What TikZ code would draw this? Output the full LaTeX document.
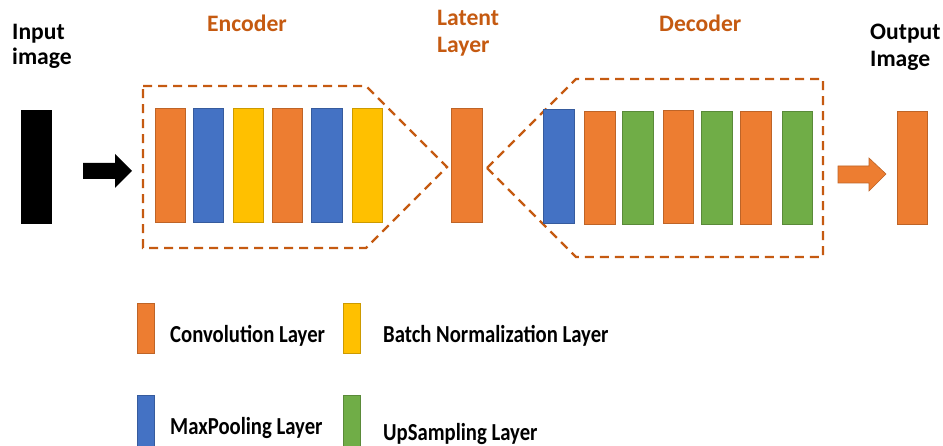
\documentclass[tikz,border=0pt]{standalone}
\usepackage{fontspec}
\setmainfont{Carlito}
\definecolor{conv}{HTML}{ED7D31}
\definecolor{pool}{HTML}{4472C4}
\definecolor{bn}{HTML}{FFC000}
\definecolor{ups}{HTML}{70AD47}
\definecolor{dark}{HTML}{C55A11}
\newcommand{\tallt}[1]{\scalebox{1}[1.18]{#1}}
\begin{document}
\begin{tikzpicture}[x=1pt,y=-1pt,
  layer/.style={draw=#1!80!black,fill=#1,line width=0.6pt},
  dashbox/.style={draw=dark,line width=2.2pt,dash pattern=on 9pt off 6pt},
  head/.style={font=\bfseries\fontsize{23.6}{28}\selectfont,anchor=base west,inner sep=0pt},
  legtxt/.style={font=\bfseries\fontsize{20.7}{24}\selectfont,anchor=base west,inner sep=0pt}]
\useasboundingbox (0,0) rectangle (943,446);
% input
\fill[black] (21,110) rectangle (52,224);
\node[head] (in1) at (12,40) {Input};
\node[head] (in2) at (12,65) {image};
% black arrow
\fill[black] (83,163) -- (115,163) -- (115,154) -- (132,171) -- (115,188) -- (115,179) -- (83,179) -- cycle;
% encoder
\draw[dashbox] (143,86) -- (366,86) -- (447,167) -- (366,248) -- (143,248) -- cycle;
\node[head,text=dark] (enc) at (207,32) {Encoder};
\draw[layer=conv] (155,108) rectangle (185,222);
\draw[layer=pool] (193,108) rectangle (223,222);
\draw[layer=bn]   (233,108) rectangle (263,222);
\draw[layer=conv] (272,108) rectangle (302,222);
\draw[layer=pool] (311,108) rectangle (342,222);
\draw[layer=bn]   (352,108) rectangle (382,222);
% latent
\draw[layer=conv] (451,108) rectangle (482,222);
\node[head,text=dark] (lat1) at (437,26) {Latent};
\node[head,text=dark] (lat2) at (437,53) {Layer};
% decoder
\draw[dashbox] (487,168) -- (576,79) -- (823,79) -- (823,257) -- (576,257) -- cycle;
\node[head,text=dark] (dec) at (659,32) {Decoder};
\draw[layer=pool] (543,109) rectangle (574,223);
\draw[layer=conv] (584,111) rectangle (615,224);
\draw[layer=ups]  (622,111) rectangle (653,224);
\draw[layer=conv] (663,110) rectangle (693,223);
\draw[layer=ups]  (701,111) rectangle (732,224);
\draw[layer=conv] (740,111) rectangle (771,224);
\draw[layer=ups]  (782,111) rectangle (812,224);
% orange arrow
\draw[fill=conv,draw=conv!80!black,line width=0.6pt] (838,166) -- (869,166) -- (869,158) -- (886,174) -- (869,191) -- (869,183) -- (838,183) -- cycle;
% output
\draw[layer=conv] (897,111) rectangle (927,224);
\node[head] (out1) at (870,40) {Output};
\node[head] (out2) at (870,67) {Image};
% legend
\draw[layer=conv] (137,303) rectangle (154,353);
\node[legtxt] (l1) at (170,343) {\tallt{Convolution Layer}};
\draw[layer=bn] (343,303) rectangle (360,353);
\node[legtxt] (l2) at (383,343) {\tallt{Batch Normalization Layer}};
\draw[layer=pool] (137,395) rectangle (154,447);
\node[legtxt] (l3) at (170,435) {\tallt{MaxPooling Layer}};
\draw[layer=ups] (343,395) rectangle (360,447);
\node[legtxt] (l4) at (383,440) {\tallt{UpSampling Layer}};
\end{tikzpicture}
\end{document}
